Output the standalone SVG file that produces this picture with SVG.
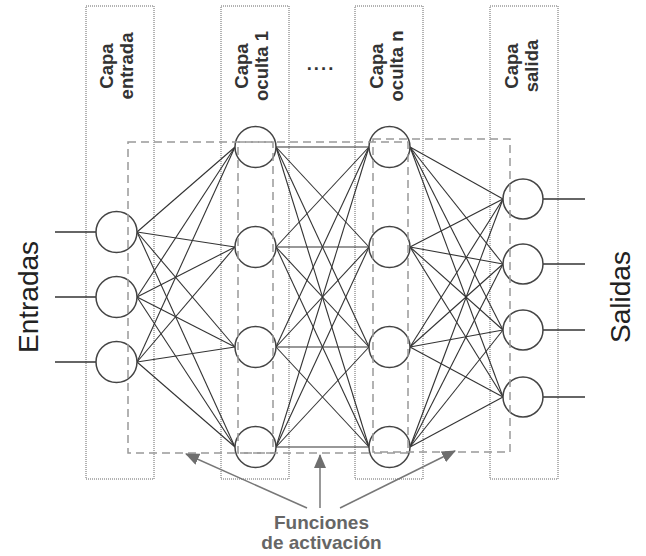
<svg xmlns="http://www.w3.org/2000/svg" width="646" height="556" viewBox="0 0 646 556">
<style>
.layer{fill:none;stroke:#666;stroke-width:1;stroke-dasharray:1 1}
.dash{fill:none;stroke:#999;stroke-width:1.5;stroke-dasharray:8 5}
.conn line{stroke:#333;stroke-width:1.1}
.io line{stroke:#333;stroke-width:1.3}
.node circle{fill:#fff;stroke:#444;stroke-width:1.5}
.lbl{font-family:"Liberation Sans",Arial,sans-serif;font-weight:bold;font-size:18.5px;fill:#333;text-anchor:middle}
.big{font-family:"Liberation Sans",Arial,sans-serif;font-size:28px;fill:#222;text-anchor:middle}
.fn{font-family:"Liberation Sans",Arial,sans-serif;font-weight:bold;font-size:19px;fill:#666;text-anchor:middle}
.arr{stroke:#777;stroke-width:1.5;fill:none}
</style>
<defs>
<marker id="ah" viewBox="0 0 14 12" refX="13" refY="6" markerWidth="14" markerHeight="12" markerUnits="userSpaceOnUse" orient="auto">
<path d="M0,0 L14,6 L0,12 z" fill="#6e6e6e"/>
</marker>
</defs>
<rect width="646" height="556" fill="#fff"/>
<g id="layers">
<rect class="layer" x="86" y="6" width="68" height="473"/>
<rect class="layer" x="221" y="6" width="68" height="473"/>
<rect class="layer" x="355" y="6" width="68" height="473"/>
<rect class="layer" x="490" y="6" width="68" height="473"/>
</g>
<g id="layer-labels">
<text class="lbl" transform="translate(113,66) rotate(-90)">Capa</text>
<text class="lbl" transform="translate(133,66) rotate(-90)">entrada</text>
<text class="lbl" transform="translate(248,66) rotate(-90)">Capa</text>
<text class="lbl" transform="translate(268,66) rotate(-90)">oculta 1</text>
<text class="lbl" transform="translate(383,66) rotate(-90)">Capa</text>
<text class="lbl" transform="translate(403,66) rotate(-90)">oculta n</text>
<text class="lbl" transform="translate(518,66) rotate(-90)">Capa</text>
<text class="lbl" transform="translate(538,66) rotate(-90)">salida</text>
<text class="lbl" x="321" y="70" style="letter-spacing:2px">....</text>
</g>
<g id="connectors" class="conn">
<!-- input -> hidden 1 -->
<line x1="137" y1="232" x2="235" y2="147"/><line x1="137" y1="232" x2="235" y2="247"/><line x1="137" y1="232" x2="235" y2="347"/><line x1="137" y1="232" x2="235" y2="447"/>
<line x1="137" y1="297" x2="235" y2="147"/><line x1="137" y1="297" x2="235" y2="247"/><line x1="137" y1="297" x2="235" y2="347"/><line x1="137" y1="297" x2="235" y2="447"/>
<line x1="137" y1="362" x2="235" y2="147"/><line x1="137" y1="362" x2="235" y2="247"/><line x1="137" y1="362" x2="235" y2="347"/><line x1="137" y1="362" x2="235" y2="447"/>
<!-- hidden 1 -> hidden n -->
<line x1="276" y1="147" x2="369" y2="147"/><line x1="276" y1="147" x2="369" y2="247"/><line x1="276" y1="147" x2="369" y2="347"/><line x1="276" y1="147" x2="369" y2="447"/>
<line x1="276" y1="247" x2="369" y2="147"/><line x1="276" y1="247" x2="369" y2="247"/><line x1="276" y1="247" x2="369" y2="347"/><line x1="276" y1="247" x2="369" y2="447"/>
<line x1="276" y1="347" x2="369" y2="147"/><line x1="276" y1="347" x2="369" y2="247"/><line x1="276" y1="347" x2="369" y2="347"/><line x1="276" y1="347" x2="369" y2="447"/>
<line x1="276" y1="447" x2="369" y2="147"/><line x1="276" y1="447" x2="369" y2="247"/><line x1="276" y1="447" x2="369" y2="347"/><line x1="276" y1="447" x2="369" y2="447"/>
<!-- hidden n -> output -->
<line x1="410" y1="147" x2="503" y2="199"/><line x1="410" y1="147" x2="503" y2="264"/><line x1="410" y1="147" x2="503" y2="330"/><line x1="410" y1="147" x2="503" y2="397"/>
<line x1="410" y1="247" x2="503" y2="199"/><line x1="410" y1="247" x2="503" y2="264"/><line x1="410" y1="247" x2="503" y2="330"/><line x1="410" y1="247" x2="503" y2="397"/>
<line x1="410" y1="347" x2="503" y2="199"/><line x1="410" y1="347" x2="503" y2="264"/><line x1="410" y1="347" x2="503" y2="330"/><line x1="410" y1="347" x2="503" y2="397"/>
<line x1="410" y1="447" x2="503" y2="199"/><line x1="410" y1="447" x2="503" y2="264"/><line x1="410" y1="447" x2="503" y2="330"/><line x1="410" y1="447" x2="503" y2="397"/>
</g>
<g id="io-lines" class="io">
<line x1="55" y1="232" x2="96" y2="232"/>
<line x1="55" y1="297" x2="96" y2="297"/>
<line x1="55" y1="362" x2="96" y2="362"/>
<line x1="543" y1="199" x2="585" y2="199"/>
<line x1="543" y1="264" x2="585" y2="264"/>
<line x1="543" y1="330" x2="585" y2="330"/>
<line x1="543" y1="397" x2="585" y2="397"/>
</g>
<g id="input-nodes" class="node">
<circle id="in1" cx="116.5" cy="232" r="20.5"/>
<circle id="in2" cx="116.5" cy="297" r="20.5"/>
<circle id="in3" cx="116.5" cy="362" r="20.5"/>
</g>
<g id="hidden1-nodes" class="node">
<circle id="h1a" cx="255.5" cy="147" r="20.5"/>
<circle id="h1b" cx="255.5" cy="247" r="20.5"/>
<circle id="h1c" cx="255.5" cy="347" r="20.5"/>
<circle id="h1d" cx="255.5" cy="447" r="20.5"/>
</g>
<g id="hiddenn-nodes" class="node">
<circle id="hna" cx="389.5" cy="147" r="20.5"/>
<circle id="hnb" cx="389.5" cy="247" r="20.5"/>
<circle id="hnc" cx="389.5" cy="347" r="20.5"/>
<circle id="hnd" cx="389.5" cy="447" r="20.5"/>
</g>
<g id="output-nodes" class="node">
<circle id="o1" cx="523" cy="199" r="20"/>
<circle id="o2" cx="523" cy="264" r="20"/>
<circle id="o3" cx="523" cy="330" r="20"/>
<circle id="o4" cx="523" cy="397" r="20"/>
</g>
<g id="activation-regions">
<rect class="dash" x="128" y="142" width="145" height="311"/>
<rect class="dash" x="238" y="142" width="170" height="311"/>
<rect class="dash" x="373" y="139" width="137" height="313"/>
</g>
<g id="side-labels">
<text class="big" transform="translate(38,297) rotate(-90)">Entradas</text>
<text class="big" transform="translate(630,297) rotate(-90)">Salidas</text>
</g>
<g id="activation-label">
<line class="arr" x1="307" y1="508" x2="186" y2="454" marker-end="url(#ah)"/>
<line class="arr" x1="320" y1="508" x2="320" y2="455" marker-end="url(#ah)"/>
<line class="arr" x1="340" y1="508" x2="455" y2="451" marker-end="url(#ah)"/>
<text class="fn" x="321.5" y="529">Funciones</text>
<text class="fn" x="321.5" y="549">de activación</text>
</g>
</svg>
